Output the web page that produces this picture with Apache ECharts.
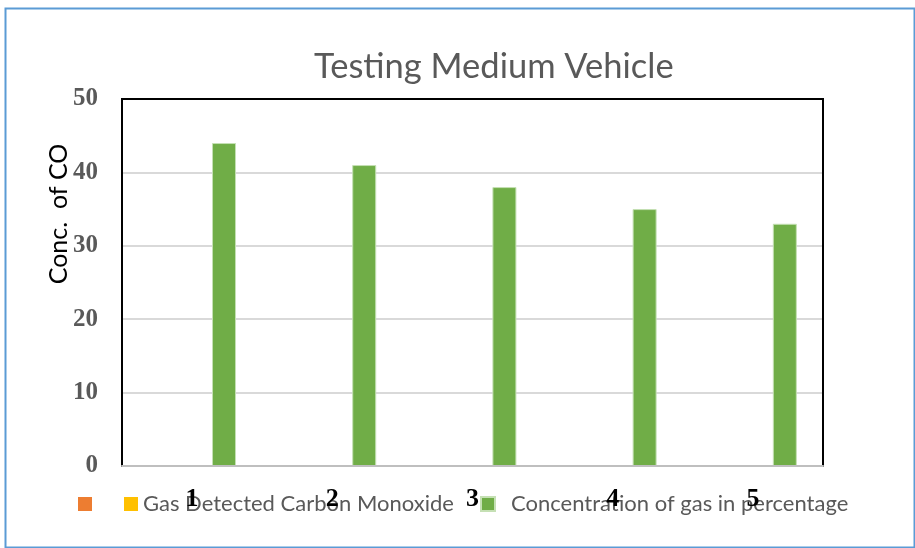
<!DOCTYPE html>
<html><head><meta charset="utf-8">
<script src="https://cdn.jsdelivr.net/npm/echarts@6/dist/echarts.min.js"></script>
<style>html,body{margin:0;padding:0;background:#fff}#c{width:915px;height:548px}</style>
</head><body><div id="c"></div>
<script>
const categories = ['1', '2', '3', '4', '5'];
const seriesNames = [' ', 'Gas Detected Carbon Monoxide', 'Concentration of gas in percentage'];
const series1Values = [null, null, null, null, null];
const series2Values = [null, null, null, null, null];
const concentrationValues = [44, 41, 38, 35, 33];
const yTicks = { min: 0, max: 50, interval: 10 };

const chart = echarts.init(document.getElementById('c'));
const sans = 'Lato';
const serif = '"Liberation Serif", "Times New Roman", serif';
const colors = ['#ed7d31', '#ffc000', '#70ad47'];
const legendBase = {
  icon: 'rect', itemWidth: 14, itemHeight: 14, orient: 'horizontal', padding: 0,
  textStyle: { color: '#595959', fontFamily: sans, fontSize: 22 }, selectedMode: false
};
chart.setOption({
  backgroundColor: '#fff',
  color: colors,
  animation: false,
  title: {
    text: 'Testing Medium Vehicle', left: 309, top: 44,
    textStyle: { color: '#595959', fontFamily: sans, fontSize: 34.5, fontWeight: 'normal' }
  },
  legend: [
    Object.assign({}, legendBase, { data: [seriesNames[0]], left: 78, top: 493 }),
    Object.assign({}, legendBase, { data: [seriesNames[1]], left: 124, top: 493 }),
    Object.assign({}, legendBase, { data: [seriesNames[2]], left: 480, top: 493,
      textStyle: Object.assign({}, legendBase.textStyle, { padding: [0, 0, 0, 11] }) })
  ],
  grid: { left: 122, right: 92, top: 99, bottom: 82, show: true, z: 3, borderColor: '#000', borderWidth: 2, backgroundColor: 'transparent' },
  xAxis: {
    type: 'category', data: categories, z: 10,
    axisLine: { lineStyle: { color: '#bfbfbf', width: 2 } },
    axisTick: { show: false },
    axisLabel: { color: '#000', fontFamily: serif, fontWeight: 'bold', fontSize: 26, margin: 20 }
  },
  yAxis: {
    type: 'value', min: yTicks.min, max: yTicks.max, interval: yTicks.interval,
    axisLine: { show: false }, axisTick: { show: false },
    splitLine: { lineStyle: { color: '#d9d9d9', width: 2 } },
    axisLabel: { color: '#595959', fontFamily: serif, fontWeight: 'bold', fontSize: 25, margin: 24 }
  },
  graphic: [
    { type: 'rect', left: 3, top: 6, z: 100, silent: true,
      shape: { width: 909, height: 539 },
      style: { fill: 'none', stroke: '#5b9bd5', lineWidth: 2 } },
    { type: 'text', x: 59, y: 214, rotation: Math.PI / 2, z: 100,
      style: { text: 'Conc.  of CO', fill: '#000', font: '25px ' + sans, textAlign: 'center', textVerticalAlign: 'middle' } }
  ],
  series: [
    { name: seriesNames[0], type: 'bar', data: series1Values, barWidth: 24, barGap: '33%' },
    { name: seriesNames[1], type: 'bar', data: series2Values, barWidth: 24, barGap: '33%' },
    { name: seriesNames[2], type: 'bar', data: concentrationValues, barWidth: 24, barGap: '33%',
      itemStyle: { borderColor: '#c5e0b4', borderWidth: 1 } }
  ]
});
</script></body></html>
